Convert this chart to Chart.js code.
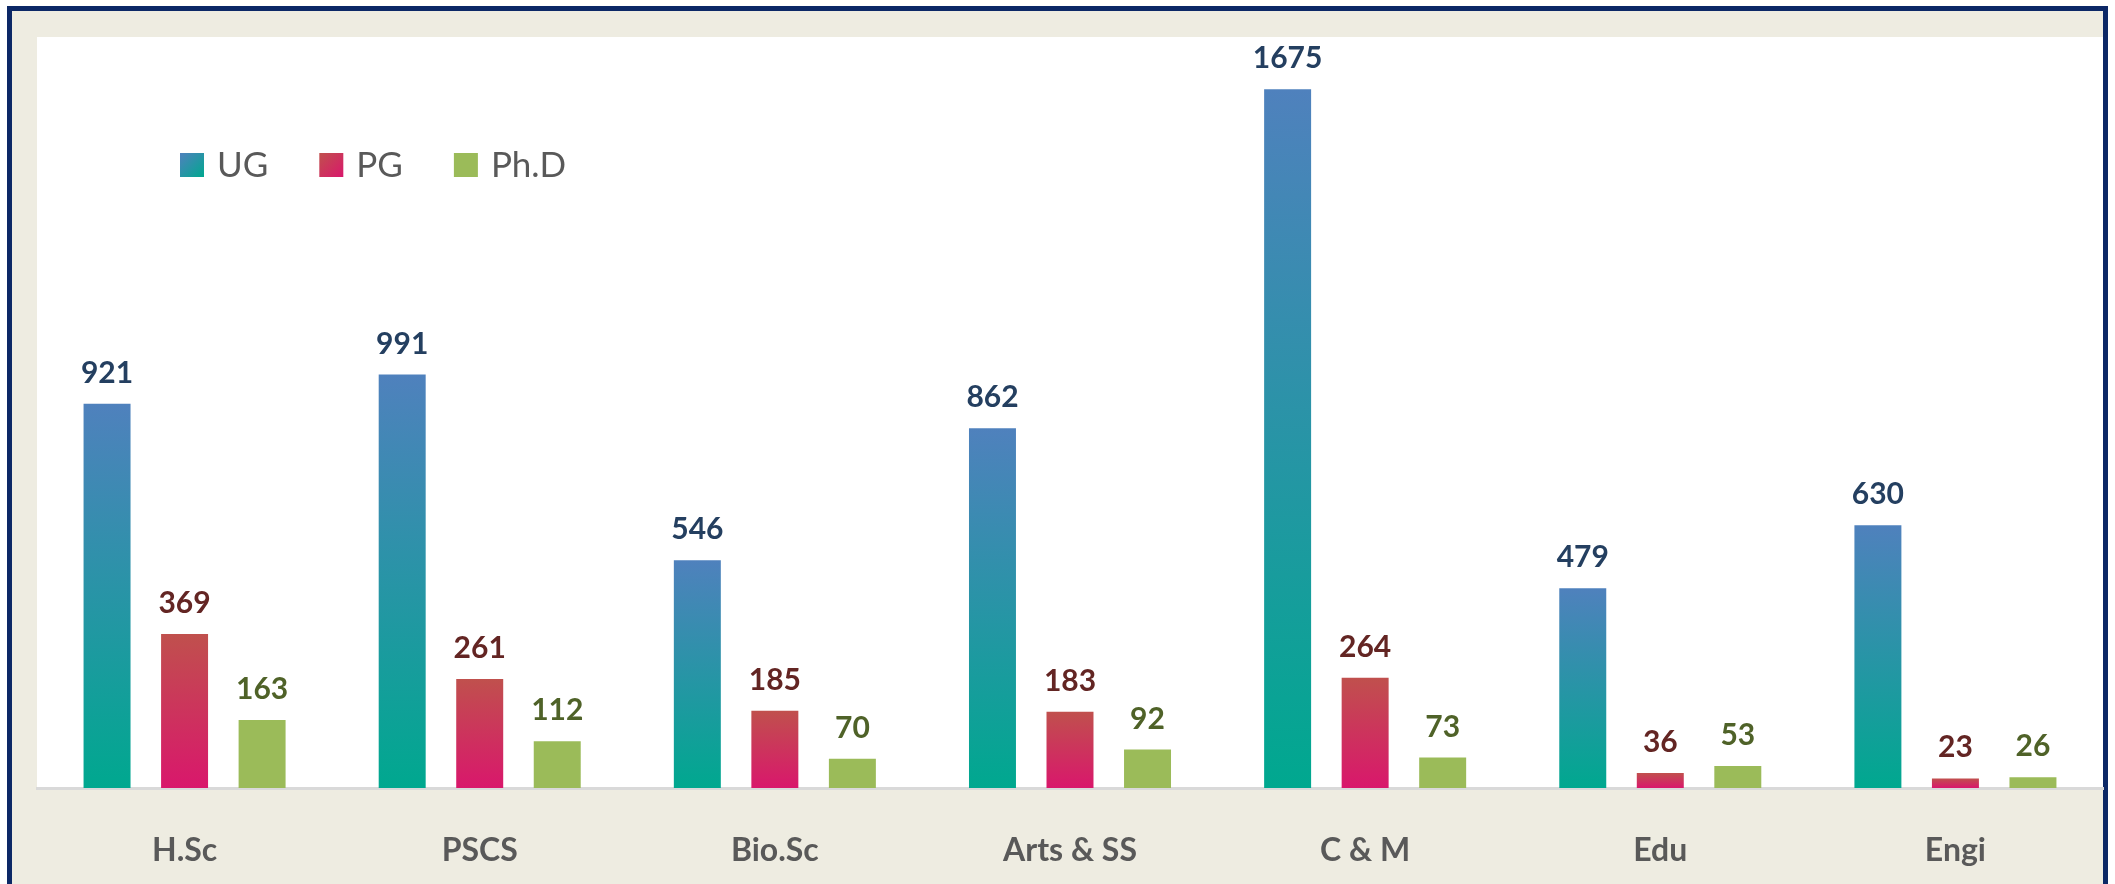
<!DOCTYPE html>
<html>
<head>
<meta charset="utf-8">
<script src="https://cdn.jsdelivr.net/npm/chart.js@4.4.1/dist/chart.umd.min.js"></script>
<style>
  html, body { margin: 0; padding: 0; background: #ffffff; width: 2115px; height: 884px; overflow: hidden; }
  #frame { position: absolute; left: 7px; top: 6px; width: 2101px; height: 920px; box-sizing: border-box;
           border: 5px solid #0C2866; background: #EEECE1; }
  #wrap { position: absolute; left: 0; top: 0; width: 2115px; height: 884px; }
</style>
</head>
<body>
<div id="frame"></div>
<div id="wrap"><canvas id="c" width="2115" height="884"></canvas></div>
<script>
// ---- data ----
const categories = ["H.Sc", "PSCS", "Bio.Sc", "Arts & SS", "C & M", "Edu", "Engi"];
const seriesNames = ["UG", "PG", "Ph.D"];
const ugValues  = [921, 991, 546, 862, 1675, 479, 630];
const pgValues  = [369, 261, 185, 183, 264, 36, 23];
const phdValues = [163, 112, 70, 92, 73, 53, 26];
const yMax = 1800;

// ---- styles ----
const gradStops = [
  ["#4F81BD", "#00A88F"],   // UG: blue -> teal
  ["#C0504D", "#D9176C"],   // PG: red -> magenta
  ["#9BBB59", "#9BBB59"]    // Ph.D: solid green
];
const labelColors = ["#243F60", "#632523", "#4F6228"];

function barFill(idx) {
  return function (ctx) {
    const chart = ctx.chart;
    if (ctx.type !== 'data' || !chart.chartArea) return gradStops[idx][0];
    const y = chart.scales.y;
    const top = y.getPixelForValue(ctx.raw);
    const base = y.getPixelForValue(0);
    const g = chart.ctx.createLinearGradient(0, top, 0, base);
    g.addColorStop(0, gradStops[idx][0]);
    g.addColorStop(1, gradStops[idx][1]);
    return g;
  };
}

const plotBg = {
  id: 'plotBg',
  beforeDraw(chart) {
    const {ctx, chartArea: a} = chart;
    ctx.save();
    ctx.fillStyle = '#ffffff';
    ctx.fillRect(a.left, a.top, a.right - a.left, a.bottom - a.top);
    ctx.restore();
  }
};

const valueLabels = {
  id: 'valueLabels',
  afterDatasetsDraw(chart) {
    const ctx = chart.ctx;
    ctx.save();
    ctx.font = 'bold 30px Lato';
    ctx.textAlign = 'center';
    ctx.textBaseline = 'alphabetic';
    chart.data.datasets.forEach((ds, di) => {
      const meta = chart.getDatasetMeta(di);
      ctx.fillStyle = labelColors[di];
      meta.data.forEach((el, i) => {
        ctx.fillText(String(ds.data[i]), el.x, el.y - 21);
      });
    });
    ctx.restore();
  }
};

const customLegend = {
  id: 'customLegend',
  afterDraw(chart) {
    const ctx = chart.ctx;
    ctx.save();
    ctx.font = '35px Lato';
    ctx.textBaseline = 'middle';
    ctx.textAlign = 'left';
    let x = 180;
    const cy = 165, box = 24;
    chart.data.datasets.forEach((ds, di) => {
      const g = ctx.createLinearGradient(x, cy - box / 2, x + box, cy + box / 2);
      g.addColorStop(0, gradStops[di][0]);
      g.addColorStop(1, gradStops[di][1]);
      ctx.fillStyle = g;
      ctx.fillRect(x, cy - box / 2, box, box);
      ctx.fillStyle = '#595959';
      const tx = x + box + 13;
      ctx.fillText(ds.label, tx, cy + 1);
      x = tx + ctx.measureText(ds.label).width + 51;
    });
    ctx.restore();
  }
};

function build() {
  new Chart(document.getElementById('c'), {
    type: 'bar',
    data: {
      labels: categories,
      datasets: [
        { label: seriesNames[0], data: ugValues,  backgroundColor: barFill(0) },
        { label: seriesNames[1], data: pgValues,  backgroundColor: barFill(1) },
        { label: seriesNames[2], data: phdValues, backgroundColor: barFill(2) }
      ]
    },
    options: {
      responsive: false,
      animation: false,
      layout: { padding: { left: 37, right: 12, top: 37, bottom: 0 } },
      datasets: { bar: { categoryPercentage: 0.788, barPercentage: 0.606, borderWidth: 0 } },
      plugins: { legend: { display: false }, tooltip: { enabled: false } },
      scales: {
        x: {
          grid: { display: true, color: 'rgba(0,0,0,0)', drawTicks: false },
          border: { display: true, color: '#D9D9D9', width: 3 },
          ticks: { color: '#595959', font: { family: 'Lato', size: 32, weight: 'bold' }, padding: 43, maxRotation: 0 },
          afterFit(scale) { scale.height = 96; }
        },
        y: { display: false, min: 0, max: yMax }
      }
    },
    plugins: [plotBg, valueLabels, customLegend]
  });
}

if (document.fonts && document.fonts.load) {
  Promise.all([
    document.fonts.load('bold 30px Lato'),
    document.fonts.load('bold 32px Lato'),
    document.fonts.load('35px Lato')
  ]).then(build, build);
} else {
  build();
}
</script>
</body>
</html>
